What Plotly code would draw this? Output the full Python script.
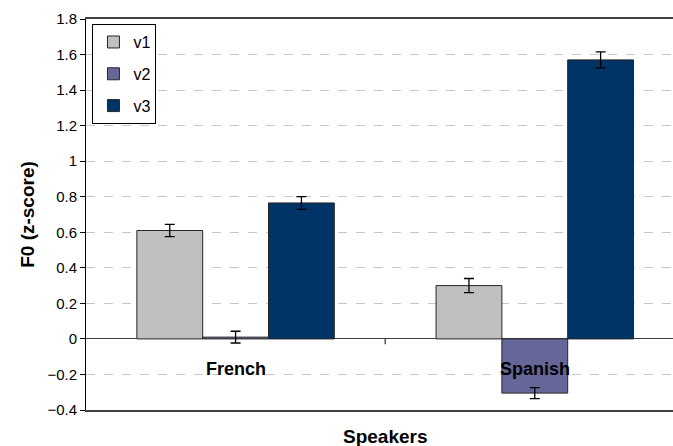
import plotly.graph_objects as go

# Mean F0 (z-score) per vowel, grouped by speaker language
speakers = ["French", "Spanish"]
series_names = ["v1", "v2", "v3"]
v1_values = [0.61, 0.30]
v2_values = [0.01, -0.305]
v3_values = [0.765, 1.57]
v1_err = [0.034, 0.04]
v2_err = [0.033, 0.031]
v3_err = [0.036, 0.045]

colors = ["#C0C0C0", "#666699", "#003366"]
FONT = "Liberation Sans, Arial, sans-serif"

x_pos = list(range(len(speakers)))
fig = go.Figure()
for i, (name, vals, errs) in enumerate(zip(series_names,
                                          [v1_values, v2_values, v3_values],
                                          [v1_err, v2_err, v3_err])):
    fig.add_trace(go.Bar(
        x=x_pos, y=vals, name=name, legendgroup=name,
        marker=dict(color=colors[i], line=dict(color="#262626", width=1)),
        error_y=dict(type="data", array=errs, visible=True,
                     color="#000000", thickness=1.3, width=5),
    ))

# category labels sit just under the zero line, as in a spreadsheet chart
annotations = [
    dict(x=i, y=-0.17, xref="x", yref="y", text=f"<b>{s}</b>", showarrow=False,
         font=dict(family=FONT, size=18, color="#000000"))
    for i, s in enumerate(speakers)
]
mid = (x_pos[0] + x_pos[1]) / 2
annotations += [
    dict(x=mid, y=-0.069, xref="x", yref="paper", text="<b>Speakers</b>",
         showarrow=False, yanchor="middle",
         font=dict(family=FONT, size=19, color="#000000")),
    dict(x=-0.1, y=0.5, xref="paper", yref="paper", text="<b>F0 (z-score)</b>",
         showarrow=False, textangle=-90, xanchor="center", yanchor="middle",
         font=dict(family=FONT, size=19, color="#000000")),
]

# tick mark on the zero line between the two categories
shapes = [dict(type="line", xref="x", yref="y", x0=mid, x1=mid, y0=0, y1=-0.03,
               line=dict(color="#000000", width=1))]

fig.update_layout(
    width=673, height=446,
    margin=dict(l=86, r=0, t=19, b=36),
    paper_bgcolor="white", plot_bgcolor="white",
    barmode="group", bargap=0.34, bargroupgap=0,
    font=dict(family=FONT, color="#000000"),
    showlegend=True,
    legend=dict(x=0.011, y=0.987, xanchor="left", yanchor="top",
                bgcolor="white", bordercolor="#000000", borderwidth=1,
                font=dict(family=FONT, size=16, color="#000000"),
                traceorder="grouped", tracegroupgap=8,
                itemwidth=30),
    annotations=annotations,
    shapes=shapes,
)
fig.update_xaxes(
    range=[-0.5, 1.462], showticklabels=False, ticks="",
    showgrid=False, zeroline=False,
    showline=True, mirror=True, linecolor="#404040", linewidth=1.5,
)
fig.update_yaxes(
    range=[-0.4, 1.8], dtick=0.2, tick0=0,
    tickformat="~g",
    ticks="outside", ticklen=5, tickcolor="#000000",
    tickfont=dict(family=FONT, size=15, color="#000000"),
    showgrid=True, gridcolor="#C8C8C8", griddash="dash", gridwidth=1,
    zeroline=True, zerolinecolor="#404040", zerolinewidth=1.2,
    showline=True, linecolor="#000000", linewidth=1,
)

fig.write_html("out.html")
